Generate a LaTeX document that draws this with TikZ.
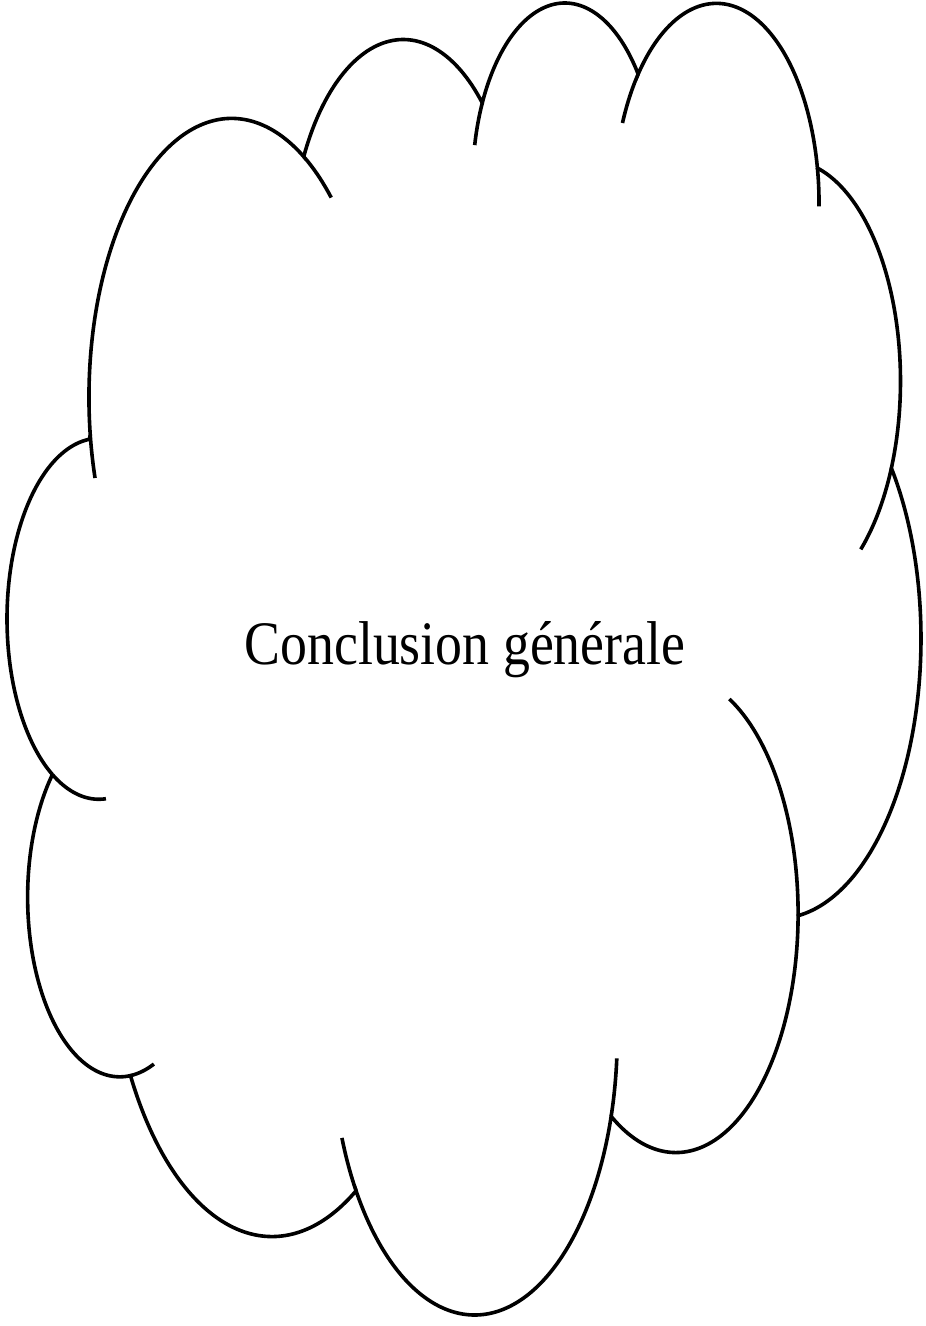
\documentclass[tikz,border=0pt]{standalone}
\usepackage{fontspec}
\setmainfont{Liberation Serif}
\tikzset{
  cloudline/.style={draw=black, line width=3.6pt},
  cloudtext/.style={font=\fontsize{53.8}{60}\selectfont, inner sep=0pt, anchor=base},
}
\begin{document}
\begin{tikzpicture}[x=1pt, y=-1pt]
\useasboundingbox (0,0) rectangle (926,1326);
% cloud built from eleven elliptic lobes (units of 100 shape units)
\begin{scope}[shift={(7.85,-1.28)}, xscale=2.1128, yscale=3.0357, samples=120]
  % outer outline, lobe after lobe, clockwise
  \draw[cloudline]
       plot[domain=172.2534:300.363]   ({105.914+67.53*cos(\x)},{131.314+91.90*sin(\x)})
    -- plot[domain=-152.019:-45.4496]  ({187.140+53.33*cos(\x)},{86.103+72.67*sin(\x)})
    -- plot[domain=-153.4846:-37.3203] ({263.614+43.65*cos(\x)},{60.857+59.45*sin(\x)})
    -- plot[domain=-139.7074:-10.2117] ({335.373+48.57*cos(\x)},{67.476+65.95*sin(\x)})
    -- plot[domain=-74.7674:23.2093]   ({369.163+53.33*cos(\x)},{125.959+72.73*sin(\x)})
    -- plot[domain=-37.5243:81.8626]   ({364.446+67.75*cos(\x)},{210.778+92.20*sin(\x)})
    -- plot[domain=0.4596:121.977]     ({316.187+57.85*cos(\x)},{301.419+78.67*sin(\x)})
    -- plot[domain=16.8446:146.2241]   ({220.930+67.52*cos(\x)},{341.454+92.15*sin(\x)})
    -- plot[domain=58.9833:150.1967]   ({125.026+77.20*cos(\x)},{302.336+105.43*sin(\x)})
    -- plot[domain=83.3064:223.0937]   ({52.955+43.60*cos(\x)},{295.961+59.18*sin(\x)})
    -- plot[domain=120.3486:264.1125]  ({43.048+43.45*cos(\x)},{204.258+59.45*sin(\x)})
    -- cycle;
  % inner arcs continuing the lobes past their junctions
  \draw[cloudline] plot[domain=163.1968:172.2534] ({105.914+67.53*cos(\x)},{131.314+91.90*sin(\x)});
  \draw[cloudline] plot[domain=-59.637:-45.7387]  ({105.914+67.53*cos(\x)},{131.314+91.90*sin(\x)});
  \draw[cloudline] plot[domain=-167.726:-153.4846] ({263.614+43.65*cos(\x)},{60.857+59.45*sin(\x)});
  \draw[cloudline] plot[domain=-156.2745:-139.7074] ({335.373+48.57*cos(\x)},{67.476+65.95*sin(\x)});
  \draw[cloudline] plot[domain=-10.2117:0.8171]   ({335.373+48.57*cos(\x)},{67.476+65.95*sin(\x)});
  \draw[cloudline] plot[domain=23.2093:49.6453]   ({369.163+53.33*cos(\x)},{125.959+72.73*sin(\x)});
  \draw[cloudline] plot[domain=-64.033:0.4596]    ({316.187+57.85*cos(\x)},{301.419+78.67*sin(\x)});
  \draw[cloudline] plot[domain=4.7378:16.8446]    ({220.930+67.52*cos(\x)},{341.454+92.15*sin(\x)});
  \draw[cloudline] plot[domain=146.2241:158.4753] ({220.930+67.52*cos(\x)},{341.454+92.15*sin(\x)});
  \draw[cloudline] plot[domain=68.236:83.3064]    ({52.955+43.60*cos(\x)},{295.961+59.18*sin(\x)});
  \draw[cloudline] plot[domain=85.546:120.3486]   ({43.048+43.45*cos(\x)},{204.258+59.45*sin(\x)});
\end{scope}
\node[cloudtext] (title) at (464.9,664.5) {\scalebox{1}[1.15]{Conclusion générale}};
\end{tikzpicture}
\end{document}
